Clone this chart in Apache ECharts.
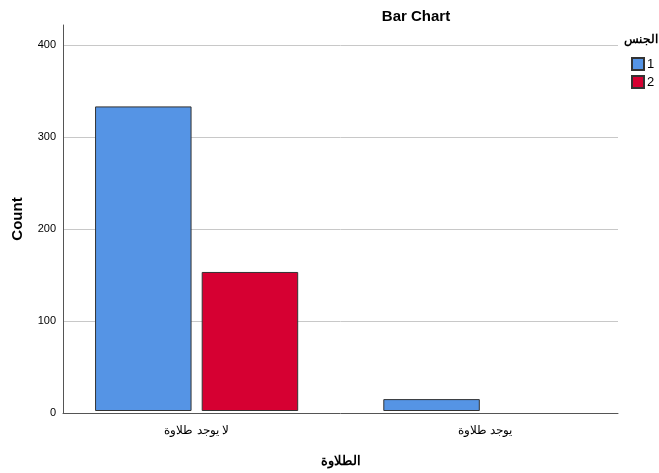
<!DOCTYPE html>
<html>
<head>
<meta charset="utf-8">
<script src="https://cdn.jsdelivr.net/npm/echarts@6/dist/echarts.min.js"></script>
<style>html,body{margin:0;padding:0;background:#fff}#c{width:659px;height:473px}</style>
</head>
<body>
<div id="c"></div>
<script>
var categories = ['لا يوجد طلاوة', 'يوجد طلاوة'];
var seriesNames = ['1', '2'];
var values1 = [333, 13];
var values2 = [152, 0];
var yMax = 422;

// zero counts are not drawn as bars (as in the reference)
function hideZero(arr) { return arr.map(function (v) { return v === 0 ? null : v; }); }

var chart = echarts.init(document.getElementById('c'));
var font = 'Liberation Sans, Arial, sans-serif';
chart.setOption({
  animation: false,
  title: [
    {text: 'Bar Chart', left: 411, top: 4, textAlign: 'center',
     textStyle: {fontFamily: font, fontSize: 15, fontWeight: 'bold', color: '#000'}},
    {text: 'الجنس', right: 1, top: 34, padding: 0,
     textStyle: {fontFamily: font, fontSize: 12, fontWeight: 'bold', color: '#000'}}
  ],
  legend: {
    orient: 'vertical', left: 631, top: 57, padding: 0, itemWidth: 12, itemHeight: 12, itemGap: 4,
    icon: 'rect',
    textStyle: {fontFamily: font, fontSize: 13, color: '#000', padding: [0, 0, 0, -2]},
    data: seriesNames
  },
  grid: [
    {left: 63, right: 41, top: 25, bottom: 60},
    {left: 52.5, right: 30, top: 25, bottom: 60}
  ],
  xAxis: [
    {type: 'category', gridIndex: 0, data: categories,
     axisLine: {lineStyle: {color: '#555', width: 1}},
     axisTick: {show: false}, axisLabel: {show: false}},
    {type: 'category', gridIndex: 1, data: categories,
     name: 'الطلاوة', nameLocation: 'middle', nameGap: 44,
     nameTextStyle: {fontFamily: font, fontSize: 13, fontWeight: 'bold', color: '#000'},
     axisLine: {show: false}, axisTick: {show: false},
     axisLabel: {fontFamily: font, fontSize: 12, color: '#000', margin: 14}}
  ],
  yAxis: [
    {type: 'value', gridIndex: 0, min: 0, max: yMax, interval: 100,
     name: 'Count', nameLocation: 'middle', nameGap: 38, nameRotate: 90,
     nameTextStyle: {fontFamily: font, fontSize: 15, fontWeight: 'bold', color: '#000'},
     axisLine: {show: true, lineStyle: {color: '#555', width: 1}},
     axisTick: {show: false},
     axisLabel: {fontFamily: font, fontSize: 11, color: '#000', margin: 7, showMaxLabel: false},
     splitLine: {show: true, showMinLine: false, showMaxLine: false, lineStyle: {color: '#c8c8c8', width: 1}}},
    {type: 'value', gridIndex: 1, min: 0, max: yMax, interval: 100,
     axisLine: {show: false}, axisTick: {show: false}, axisLabel: {show: false}, splitLine: {show: false}}
  ],
  series: [
    {name: seriesNames[0], type: 'bar', xAxisIndex: 1, yAxisIndex: 1, data: hideZero(values1),
     barWidth: 96.5, barGap: '10.5%',
     itemStyle: {color: '#5594E5', borderColor: '#333', borderWidth: 1}},
    {name: seriesNames[1], type: 'bar', xAxisIndex: 1, yAxisIndex: 1, data: hideZero(values2),
     barWidth: 96.5,
     itemStyle: {color: '#D60032', borderColor: '#333', borderWidth: 1}}
  ]
});
</script>
</body>
</html>
